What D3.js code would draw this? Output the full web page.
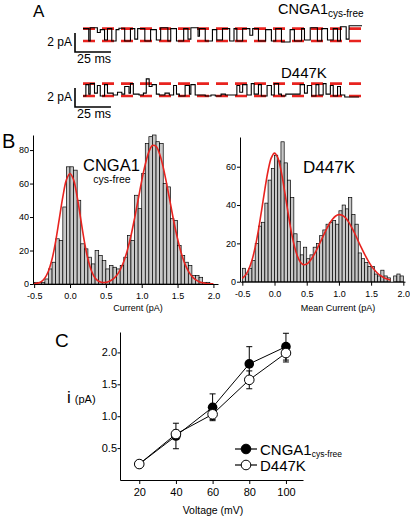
<!DOCTYPE html>
<html><head><meta charset="utf-8">
<script src="https://cdn.jsdelivr.net/npm/d3@7"></script>
<style>
html,body{margin:0;padding:0;background:#fff;}
svg{display:block;font-family:Arial,"Liberation Sans",Helvetica,sans-serif;}
</style></head><body>
<svg id="fig" width="410" height="520"></svg>
<script>
// ---------------- DATA ----------------
// Panel A: idealised single-channel records, [dwell (ms), current (pA)]
const traceCNGA1 = [[4,1.3],[1,0],[5,1.4],[2,0.9],[3,1.2],[2,0.1],[3,1.3],[3,0],[2,1.2],[4,1.35],[4,0],[3,1.3],[2,0.2],[5,1.3],[4,0],[4,1.2],[3,0.1],[5,1.4],[2,0],[4,1.3],[5,0],[3,1.3],[2,0.2],[5,1.4],[1,0.5],[4,1.3],[5,0],[3,1.2],[4,0.1],[5,1.3],[3,0],[2,1.3],[4,0],[5,1.3],[2,0.6],[4,1.3],[5,0],[4,1.2],[3,0],[4,1.3],[6,-0.1],[3,1.2],[5,0],[2,1.3],[4,0.1],[5,1.4],[3,0],[4,1.3],[4,0.1],[3,1.3],[2,0],[4,1.5],[2,0.2],[9,1.6]];
const traceD447K = [[2,0],[2,1.2],[1,0.2],[3,1.3],[2,0.3],[2,1.1],[3,0],[2,1.2],[4,0.3],[3,0.1],[3,0.4],[2,0.2],[3,1.0],[1,0.3],[2,1.3],[4,0.2],[3,0.1],[2,0.3],[2,1.8],[2,1.0],[3,1.2],[2,0.2],[4,0.1],[3,0.3],[3,0.1],[2,1.1],[2,0.2],[4,0],[3,1.1],[1,0.2],[3,1.2],[7,0.1],[4,0],[3,0.1],[4,0],[3,0.2],[6,0.1],[2,0.1],[2,1.1],[2,0.4],[3,1.2],[3,0.1],[2,1.3],[3,0.2],[2,1.2],[4,0],[3,1.1],[2,0.1],[3,1.3],[2,0.2],[3,0],[6,0.2],[4,0.2],[3,1.2],[2,0.3],[3,1.1],[3,0],[2,1.2],[3,0.1],[2,1.3],[3,0.2],[2,1.1],[3,0],[2,1.0],[3,0.1],[10,-0.1]];
const levelsCNGA1 = [0, 1.3];
const levelsD447K = [0, 1.3];
const traceWindowMs = 194;
const scaleBarPA = 2, scaleBarMs = 25;

// Panel B: amplitude histograms (bins of 0.05 pA starting at -0.5 pA) + Gaussian fits
const binStart = -0.5, binWidth = 0.05;
const histCNGA1 = [1,1,1,3,9,13,27,26,46,70, 70,68,50,24,21,16,12,20,17,14, 9,11,10,9,11,16,29,26,53,45, 66,84,88,89,85,84,60,58,39,38, 23,17,13,11,5,5,4,1,1,0];
const histD447K = [7,4,7,11,20,29,31,41,53,59, 66,63,73,62,53,44,25,21,14,18, 12,14,18,20,24,27,30,31,32,30, 37,40,38,44,35,30,15,12,10,8, 8,4,3,6,3,2,0,3,4,3];
const fitStep = 0.05;
const fitCNGA1 = [0.17,0.53,1.47,3.6,7.8,14.9,25.5,38.7,52.0,62.2,66, 62.2,52.0,38.7,25.5,14.9,7.8,3.6,1.65,0.92,0.97, 1.62,2.9,5.1,8.5,13.4,20.2,28.8,39.1,50.3,61.6, 71.5,78.9,82.7,82.2,77.7,69.7,59.4,48.1,36.9,27.0, 18.7,12.3,7.7,4.6,2.6,1.4,0.7,0.34,0.16,0.07];
const fitD447K = [1.74,3.5,6.5,11.2,18.0,26.9,37.4,48.2,57.9,64.6,67.1, 64.7,58.2,48.6,38.1,28.0,19.8,13.8,10.3,8.9,9.2, 10.8,13.3,16.3,19.9,23.4,26.9,30.1,32.6,34.3,35.0, 34.7,33.4,31.2,28.2,24.9,21.2,17.6,14.2,11.1,8.4, 6.2,4.4,3.1,2.1,1.35,0.86];
const histXTicks = [-0.5,0,0.5,1,1.5,2];
const histYTicksCNGA1 = [0,20,40,60,80];
const histYTicksD447K = [0,20,40,60];

// Panel C: i-V relation
const voltages = [20,40,60,80,100];
const iCNGA1 = [0.25,0.69,1.14,1.82,2.09];
const errCNGA1 = [0,0.20,0.21,0.27,0.21];
const iD447K = [0.25,0.72,1.03,1.57,1.99];
const errD447K = [0,0.06,0.08,0.14,0.14];
const ivYTicks = [0.5,1.0,1.5,2.0];

// ---------------- DRAW ----------------
const svg = d3.select("#fig");
svg.append("rect").attr("width",410).attr("height",520).attr("fill","#fff");
const RED = "#e8231f";
const fmt1 = d => d.toFixed(1);

function txt(g, x, y, s, size, anchor){
  return g.append("text").attr("x",x).attr("y",y).attr("font-size",size)
    .attr("text-anchor",anchor||"start").attr("fill","#000").text(s);
}

// ===== Panel A =====
const gA = svg.append("g");
txt(gA, 33, 17, "A", 17);
const xT = d3.scaleLinear().domain([0, traceWindowMs]).range([83, 362]);

function drawTrace(data, levels, yTop, yBottom){
  const y = d3.scaleLinear().domain([0, 2]).range([yBottom, yTop]);
  gA.selectAll(null).data(levels).enter().append("line")
    .attr("x1", xT(0)).attr("x2", xT(traceWindowMs)+1)
    .attr("y1", d=>y(d)).attr("y2", d=>y(d))
    .attr("stroke", RED).attr("stroke-width", 2.6).attr("stroke-dasharray","12,7");
  const pts = [];
  let t = 0;
  data.forEach(([dur, amp]) => { pts.push([t, amp]); t += dur; pts.push([t, amp]); });
  gA.append("path").datum(pts)
    .attr("d", d3.line().x(d=>xT(d[0])).y(d=>y(d[1])))
    .attr("fill","none").attr("stroke","#000").attr("stroke-width",1.1);
  const bx = 75, by = y(0) + 11;
  const h = y(0) - y(scaleBarPA);
  const w = xT(scaleBarMs) - xT(0);
  gA.append("path").attr("d", `M${bx},${by-h}V${by}H${bx+w}`)
    .attr("fill","none").attr("stroke","#000").attr("stroke-width",1.6);
  txt(gA, bx-3, by-6, "2 pA", 12, "end");
  txt(gA, bx+2, by+11, "25 ms", 12.5);
}
drawTrace(traceCNGA1, levelsCNGA1, 22, 41);
drawTrace(traceD447K, levelsD447K, 77, 96);

const tA1 = gA.append("text").attr("x",278).attr("y",14).attr("font-size",14.5);
tA1.append("tspan").text("CNGA1");
tA1.append("tspan").attr("font-size",10).attr("dy",3).text("cys-free");
txt(gA, 281, 78, "D447K", 15);

// ===== Panel B =====
const gB = svg.append("g");
txt(gB, 2, 148, "B", 20);

function drawHist(hist, fit, x0, x1, xDom, y0, yTopVal, yTop, yTicks, title, titleX){
  const x = d3.scaleLinear().domain(xDom).range([x0, x1]);
  const y = d3.scaleLinear().domain([0, yTopVal]).range([y0, yTop]);
  const g = gB.append("g");
  g.selectAll("rect").data(hist).enter().append("rect")
    .attr("x", (d,i)=>x(binStart + i*binWidth))
    .attr("width", (d,i)=>x(binStart+(i+1)*binWidth)-x(binStart+i*binWidth))
    .attr("y", d=>y(d)).attr("height", d=>y(0)-y(d))
    .attr("fill","#c8c8c8").attr("stroke","#000").attr("stroke-width",0.7);
  const fitPts = fit.map((v,i)=>[binStart + i*fitStep, v]);
  g.append("path").datum(fitPts)
    .attr("d", d3.line().x(d=>x(d[0])).y(d=>y(d[1])).curve(d3.curveCatmullRom))
    .attr("fill","none").attr("stroke",RED).attr("stroke-width",1.6);
  const ax = g.append("g").attr("transform",`translate(0,${y0})`)
    .call(d3.axisBottom(x).tickValues(histXTicks).tickFormat(fmt1).tickSize(4).tickSizeOuter(0));
  const ay = g.append("g").attr("transform",`translate(${x0},0)`)
    .call(d3.axisLeft(y).tickValues(yTicks).tickSize(3).tickSizeOuter(0));
  [ax, ay].forEach(a => {
    a.selectAll("text").attr("font-size",9).attr("font-family",null).attr("fill","#000");
    a.selectAll("path,line").attr("stroke","#000").attr("stroke-width",1);
  });
  ax.selectAll("text").attr("dy","0.9em");
  ay.selectAll("text").attr("x",-4);
  txt(g, titleX, 311, title, 9, "middle");
  return {x, y};
}
drawHist(histCNGA1, fitCNGA1, 33, 218, [-0.516, 2.064], 284, 89, 135, histYTicksCNGA1, "Current (pA)", 138);
drawHist(histD447K, fitD447K, 240, 405, [-0.536, 2.026], 281.7, 75.5, 137, histYTicksD447K, "Mean Current (pA)", 338);

txt(gB, 83, 171, "CNGA1", 16.5);
txt(gB, 112, 183, "cys-free", 10.5, "middle");
txt(gB, 303, 173, "D447K", 17);

// ===== Panel C =====
const gC = svg.append("g");
txt(gC, 55, 347, "C", 19);
const xV = d3.scaleLinear().domain([9.5, 109.3]).range([120, 303]);
const yI = d3.scaleLinear().domain([0, 2.32]).range([480, 332]);

const axC = gC.append("g").attr("transform","translate(0,480)")
  .call(d3.axisBottom(xV).tickValues(voltages).tickSize(4).tickSizeOuter(0));
const ayC = gC.append("g").attr("transform","translate(120,0)")
  .call(d3.axisLeft(yI).tickValues(ivYTicks).tickFormat(fmt1).tickSize(2.5).tickSizeOuter(0));
[axC, ayC].forEach(a => {
  a.selectAll("text").attr("font-size",11).attr("font-family",null).attr("fill","#000");
  a.selectAll("path,line").attr("stroke","#000").attr("stroke-width",1);
});
axC.selectAll("text").attr("dy","0.85em");
ayC.selectAll("text").attr("x",-3);
txt(gC, 213, 514, "Voltage (mV)", 10.5, "middle");
const yl = gC.append("text").attr("x",67).attr("y",403).attr("font-size",17);
yl.append("tspan").text("i");
yl.append("tspan").attr("font-size",11).attr("dx",4).text("(pA)");

function series(vals, errs){
  const pts = voltages.map((v,i)=>({v, m:vals[i], e:errs[i]}));
  const g = gC.append("g");
  g.append("path").datum(pts)
    .attr("d", d3.line().x(d=>xV(d.v)).y(d=>yI(d.m)))
    .attr("fill","none").attr("stroke","#000").attr("stroke-width",1);
  pts.filter(d=>d.e>0).forEach(d=>{
    const cx = xV(d.v);
    g.append("path").attr("d",
      `M${cx},${yI(d.m-d.e)}V${yI(d.m+d.e)}M${cx-3},${yI(d.m+d.e)}H${cx+3}M${cx-3},${yI(d.m-d.e)}H${cx+3}`)
      .attr("stroke","#000").attr("stroke-width",1).attr("fill","none");
  });
  return {g, pts};
}
const sF = series(iCNGA1, errCNGA1);
const sO = series(iD447K, errD447K);
sF.g.selectAll("circle").data(sF.pts).enter().append("circle")
  .attr("cx",d=>xV(d.v)).attr("cy",d=>yI(d.m)).attr("r",4.8).attr("fill","#000");
sO.g.selectAll("circle").data(sO.pts).enter().append("circle")
  .attr("cx",d=>xV(d.v)).attr("cy",d=>yI(d.m)).attr("r",4.8).attr("fill","#fff")
  .attr("stroke","#000").attr("stroke-width",1);

// legend
const lg = gC.append("g");
[[449,true,"CNGA1","cys-free"],[465,false,"D447K",""]].forEach(([ly,f,name,sub])=>{
  lg.append("line").attr("x1",235).attr("x2",257).attr("y1",ly).attr("y2",ly)
    .attr("stroke","#000").attr("stroke-width",1.2);
  lg.append("circle").attr("cx",246).attr("cy",ly).attr("r",4.8)
    .attr("fill", f ? "#000" : "#fff").attr("stroke","#000").attr("stroke-width",1);
  const t = lg.append("text").attr("x",260).attr("y",ly+5.5).attr("font-size",15);
  t.append("tspan").text(name);
  if (sub) t.append("tspan").attr("font-size",8.5).attr("dy",2).text(sub);
});
</script>
</body></html>
